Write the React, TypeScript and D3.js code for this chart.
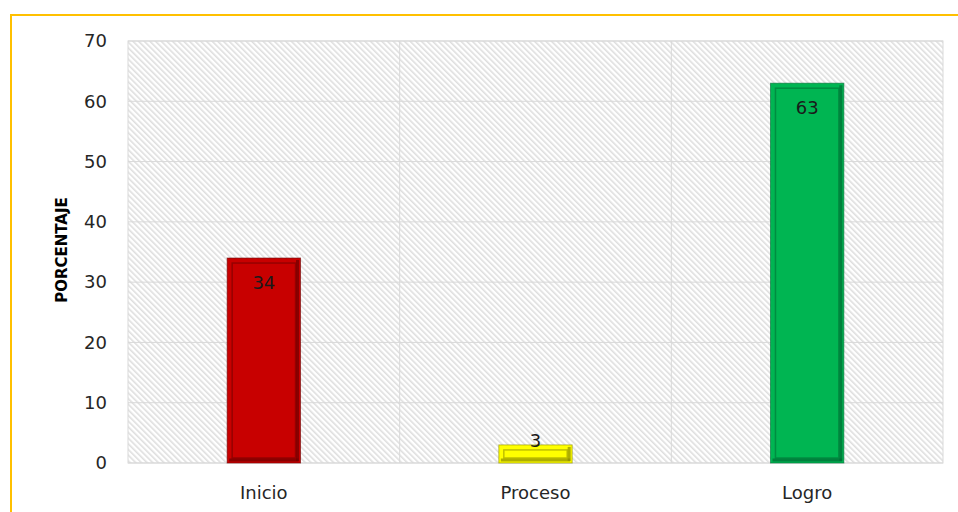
import React from "react";
import * as d3 from "d3";

// niveles de logro (porcentaje)
const categories = ["Inicio", "Proceso", "Logro"];
const values = [34, 3, 63];
const barColors = ["#C80000", "#FFFF00", "#00B552"];
const edgeColors = ["#6E0000", "#8C8C00", "#006B33"];
const yTicks = [0, 10, 20, 30, 40, 50, 60, 70];

const W = 958;
const H = 512;
const plot = { left: 128, right: 943, top: 41, bottom: 463 };
const font = "'DejaVu Sans', sans-serif";

export default function App() {
  const x = d3
    .scaleBand<string>()
    .domain(categories)
    .range([plot.left, plot.right])
    .paddingInner(0.73)
    .paddingOuter(0.365);
  const y = d3.scaleLinear().domain([0, 70]).range([plot.bottom, plot.top]);
  const step = (plot.right - plot.left) / categories.length;

  return (
    <svg
      width={W}
      height={H}
      style={{ position: "absolute", left: 0, top: 0, background: "#fff" }}
    >
      <defs>
        <pattern id="hatch" width="4" height="4" patternUnits="userSpaceOnUse" patternTransform="rotate(-45)">
          <rect width="4" height="4" fill="#ffffff" />
          <rect width="1.6" height="4" fill="#dedede" />
        </pattern>
      </defs>

      {/* marco */}
      <rect x={11} y={15} width={W} height={H} fill="none" stroke="#FFC000" strokeWidth={2} />

      {/* área de trazado */}
      <rect
        x={plot.left}
        y={plot.top}
        width={plot.right - plot.left}
        height={plot.bottom - plot.top}
        fill="url(#hatch)"
        stroke="#d9d9d9"
      />

      {yTicks.map((t) => (
        <g key={t}>
          <line x1={plot.left} x2={plot.right} y1={y(t)} y2={y(t)} stroke="#d9d9d9" strokeWidth={1} />
          <text x={107} y={y(t)} dy="0.35em" textAnchor="end" fontFamily={font} fontSize={18} fill="#262626">
            {t}
          </text>
        </g>
      ))}
      {categories.slice(1).map((c, i) => (
        <line
          key={c}
          x1={plot.left + step * (i + 1)}
          x2={plot.left + step * (i + 1)}
          y1={plot.top}
          y2={plot.bottom}
          stroke="#d9d9d9"
        />
      ))}

      {categories.map((c, i) => {
        const bx = x(c)!;
        const bw = x.bandwidth();
        const by = y(values[i]);
        const bh = plot.bottom - by;
        const inset = Math.min(5, bh / 3);
        return (
          <g key={c}>
            <rect x={bx} y={by} width={bw} height={bh} fill={barColors[i]} stroke={edgeColors[i]} strokeWidth={1} strokeOpacity={0.6} />
            <rect
              x={bx + inset}
              y={by + inset}
              width={bw - 2 * inset}
              height={Math.max(0, bh - 2 * inset)}
              fill="none"
              stroke={edgeColors[i]}
              strokeOpacity={0.55}
              strokeWidth={1.5}
            />
            <line x1={bx + bw - 3} x2={bx + bw - 3} y1={by + 2} y2={by + bh - 2} stroke={edgeColors[i]} strokeWidth={3} strokeOpacity={0.7} />
            <line x1={bx + 2} x2={bx + bw - 2} y1={by + bh - 3} y2={by + bh - 3} stroke={edgeColors[i]} strokeWidth={3} strokeOpacity={0.7} />
            <text
              x={bx + bw / 2}
              y={values[i] > 10 ? by + 31 : by + 2}
              textAnchor="middle"
              fontFamily={font}
              fontSize={18}
              fill="#1a1a1a"
            >
              {values[i]}
            </text>
            <text
              x={bx + bw / 2}
              y={499}
              textAnchor="middle"
              fontFamily={font}
              fontSize={18}
              fill="#262626"
            >
              {c}
            </text>
          </g>
        );
      })}

      <text
        transform={`translate(67, 250) rotate(-90)`}
        textAnchor="middle"
        fontFamily={font}
        fontWeight="bold"
        fontSize={15}
        fill="#000"
      >
        PORCENTAJE
      </text>
    </svg>
  );
}
